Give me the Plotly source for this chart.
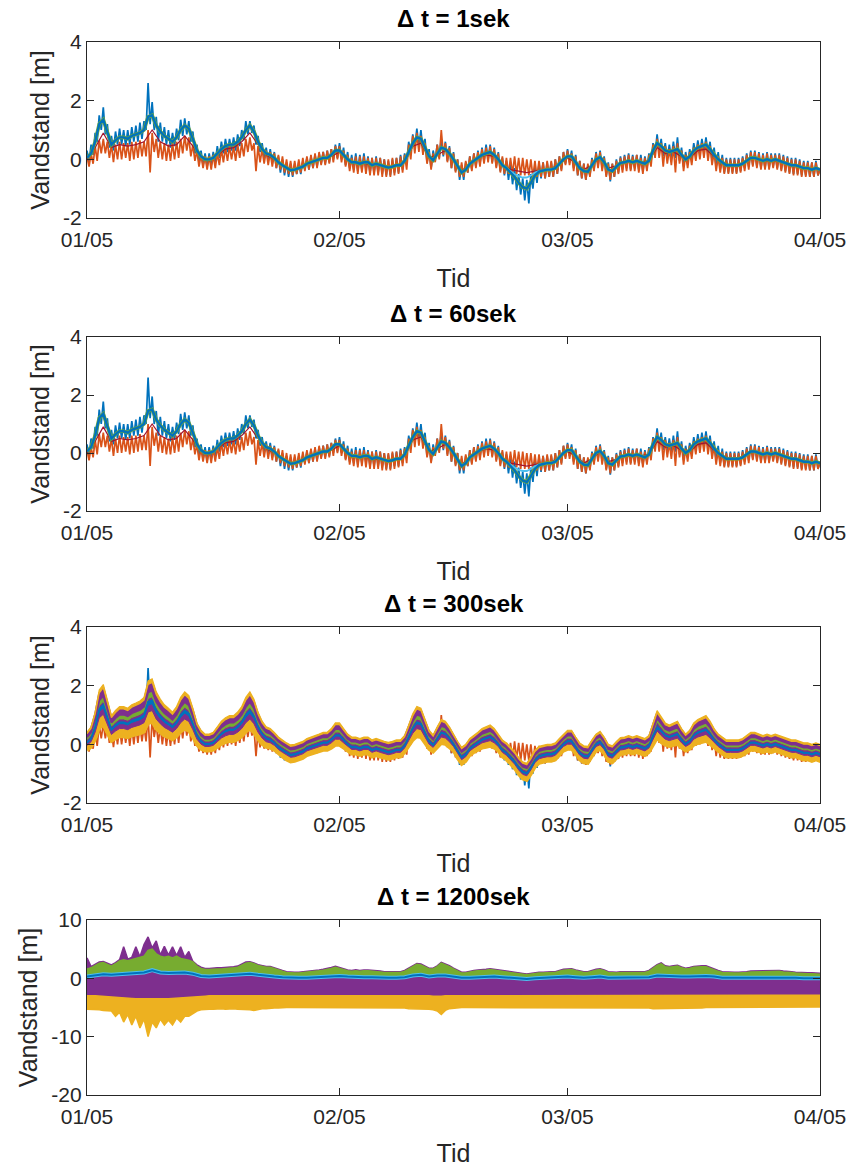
import pandas as pd
import plotly.graph_objects as go

# ---------------- data ----------------
START = "2015-01-05"
t12 = pd.date_range(START, periods=181, freq="12h")
t6 = pd.date_range(START, periods=361, freq="6h")
tday = pd.date_range(START, periods=91, freq="D")
t_lb = pd.date_range(pd.Timestamp(START) + pd.Timedelta(days=50), periods=17, freq="12h")

# smoothed model water level (12 h)
model_base = [
    0.05,0.2,0.6,1.2,1.35,0.9,0.5,0.65,0.75,0.75,0.7,0.8,0.85,0.9,1.0,1.45,1.5,1.15,0.95,0.8,
    0.7,0.6,0.75,1.0,1.15,1.05,0.7,0.3,0.1,0.0,0.0,0.05,0.2,0.35,0.45,0.5,0.5,0.6,0.75,1.0,
    1.15,0.95,0.6,0.35,0.2,0.15,0.05,-0.1,-0.2,-0.3,-0.37,-0.35,-0.3,-0.25,-0.15,-0.1,-0.05,0.0,0.05,0.05,
    0.15,0.3,0.3,0.15,0.0,-0.1,-0.1,-0.15,-0.1,-0.1,-0.2,-0.15,-0.2,-0.25,-0.28,-0.25,-0.2,-0.2,-0.05,0.25,
    0.55,0.75,0.7,0.4,0.1,-0.03,0.2,0.4,0.35,0.2,0.0,-0.25,-0.45,-0.35,-0.15,-0.05,0.05,0.15,0.2,0.25,
    0.15,0.0,-0.2,-0.3,-0.45,-0.6,-0.8,-0.95,-1.0,-0.8,-0.55,-0.42,-0.38,-0.35,-0.35,-0.3,-0.15,0.0,0.1,0.1,
    -0.1,-0.3,-0.4,-0.42,-0.2,0.0,0.07,-0.1,-0.35,-0.4,-0.25,-0.12,-0.1,-0.05,-0.1,-0.05,-0.1,-0.15,-0.05,0.3,
    0.55,0.45,0.3,0.25,0.3,0.35,0.15,0.0,0.1,0.3,0.4,0.45,0.5,0.35,0.15,0.0,-0.1,-0.2,-0.2,-0.2,
    -0.2,-0.15,-0.05,0.05,0.05,0.0,-0.05,0.0,-0.05,0.0,-0.05,-0.1,-0.15,-0.2,-0.2,-0.25,-0.3,-0.3,-0.35,-0.3,
    -0.35]

# measured water level, station 1 (6 h)
meas_blue = [
    0.3,-0.1,0.5,0.15, 0.9,0.6,1.5,1.0, 1.77,0.85,1.2,0.4, 0.8,0.3,0.95,0.5, 1.05,0.5,1.0,0.45,
    1.0,0.5,1.1,0.6, 1.15,0.6,1.25,0.7, 1.3,1.0,2.6,1.2, 1.95,1.0,1.45,0.6, 1.25,0.6,1.1,0.5,
    1.0,0.4,0.9,0.45, 1.05,0.65,1.35,0.8, 1.4,0.85,1.3,0.6, 0.95,0.2,0.5,-0.1, 0.3,-0.2,0.2,-0.25,
    0.2,-0.2,0.25,-0.1, 0.45,0.05,0.6,0.2, 0.7,0.25,0.7,0.3, 0.75,0.3,0.85,0.45, 1.0,0.65,1.3,0.85,
    1.3,0.9,1.15,0.5, 0.8,0.25,0.55,0.05, 0.4,-0.05,0.35,-0.15, 0.25,-0.3,0.1,-0.45, 0.0,-0.55,-0.1,-0.6,
    -0.15,-0.6,-0.15,-0.5, -0.1,-0.5,-0.05,-0.35, 0.05,-0.35,0.1,-0.3, 0.15,-0.25,0.2,-0.15, 0.25,-0.15,0.3,-0.1,
    0.35,0.0,0.5,0.05, 0.55,0.0,0.4,-0.2, 0.25,-0.3,0.15,-0.35, 0.2,-0.4,0.15,-0.35, 0.2,-0.35,0.1,-0.45,
    0.05,-0.45,0.1,-0.45, 0.05,-0.5,0.0,-0.55, -0.05,-0.55,0.0,-0.45, 0.05,-0.45,0.15,-0.35, 0.2,-0.1,0.6,0.2,
    0.85,0.4,1.05,0.45, 1.0,0.3,0.7,-0.1, 0.35,-0.3,0.3,-0.05, 0.5,0.05,0.7,0.1, 0.6,-0.05,0.45,-0.3,
    0.25,-0.4,0.0,-0.7, -0.2,-0.7,-0.1,-0.45, 0.1,-0.35,0.2,-0.25, 0.3,-0.15,0.4,-0.05, 0.5,0.0,0.5,-0.1,
    0.4,-0.25,0.25,-0.4, 0.05,-0.55,-0.05,-0.7, -0.15,-0.85,-0.3,-1.05, -0.5,-1.2,-0.65,-1.4, -0.7,-1.5,-0.5,-1.0,
    -0.25,-0.8,-0.15,-0.65, -0.1,-0.65,-0.1,-0.6, -0.1,-0.6,0.0,-0.5, 0.1,-0.35,0.25,-0.15, 0.35,-0.1,0.3,-0.3,
    0.15,-0.55,-0.05,-0.65, -0.15,-0.7,-0.2,-0.55, 0.05,-0.35,0.25,-0.2, 0.3,-0.3,0.1,-0.55, -0.1,-0.75,-0.15,-0.6,
    0.0,-0.45,0.1,-0.35, 0.15,-0.3,0.2,-0.35, 0.15,-0.3,0.15,-0.35, 0.15,-0.4,0.1,-0.3, 0.2,-0.1,0.55,0.2,
    0.85,0.25,0.7,0.1, 0.55,0.05,0.5,0.05, 0.6,0.05,0.75,-0.05, 0.4,-0.25,0.25,-0.15, 0.35,0.0,0.55,0.15,
    0.65,0.2,0.7,0.25, 0.75,0.2,0.6,-0.05, 0.4,-0.25,0.25,-0.35, 0.15,-0.45,0.05,-0.45, 0.05,-0.45,0.05,-0.45,
    0.05,-0.4,0.1,-0.3, 0.2,-0.25,0.3,-0.2, 0.3,-0.25,0.25,-0.3, 0.2,-0.3,0.25,-0.3, 0.2,-0.25,0.2,-0.3,
    0.2,-0.35,0.15,-0.4, 0.1,-0.45,0.05,-0.5, 0.05,-0.5,0.0,-0.55, -0.05,-0.55,-0.05,-0.6, -0.1,-0.6,-0.05,-0.55,
    -0.3]

# measured water level, station 2 (6 h)
meas_orange = [
    0.1,-0.25,0.2,-0.15, 0.45,-0.05,0.65,0.2, 0.7,0.2,0.6,0.05, 0.5,-0.1,0.5,0.0, 0.6,0.0,0.55,0.05,
    0.55,-0.05,0.6,0.0, 0.6,0.05,0.65,0.1, 0.6,0.1,1.0,-0.45, 0.9,0.25,0.7,0.05, 0.6,0.0,0.55,-0.05,
    0.5,-0.05,0.55,0.0, 0.6,0.05,0.7,0.2, 0.8,0.3,0.75,0.1, 0.5,-0.05,0.3,-0.25, 0.15,-0.3,0.1,-0.35,
    0.1,-0.35,0.15,-0.3, 0.2,-0.2,0.35,-0.1, 0.4,-0.05,0.45,0.0, 0.45,-0.05,0.5,0.05, 0.55,0.1,0.7,0.25,
    0.75,0.3,0.55,-0.4, 0.45,-0.1,0.35,-0.15, 0.3,-0.2,0.25,-0.25, 0.2,-0.3,0.15,-0.35, 0.1,-0.45,0.0,-0.5,
    -0.05,-0.55,-0.05,-0.5, 0.0,-0.45,0.05,-0.4, 0.1,-0.35,0.15,-0.3, 0.2,-0.3,0.25,-0.2, 0.25,-0.2,0.3,-0.15,
    0.35,-0.1,0.45,0.0, 0.45,-0.1,0.3,-0.25, 0.15,-0.4,0.05,-0.45, 0.1,-0.5,0.1,-0.45, 0.1,-0.5,0.05,-0.55,
    0.05,-0.55,0.05,-0.55, 0.05,-0.6,0.0,-0.6, 0.0,-0.6,0.05,-0.55, 0.05,-0.5,0.1,-0.45, 0.15,-0.35,0.5,0.0,
    0.8,0.2,0.9,0.25, 0.8,0.15,0.55,-0.15, 0.25,-0.35,0.2,-0.1, 0.5,0.0,1.0,0.15, 0.55,-0.1,0.4,-0.3,
    0.2,-0.45,0.0,-0.6, -0.1,-0.6,-0.05,-0.45, 0.1,-0.4,0.2,-0.3, 0.25,-0.25,0.35,-0.15, 0.4,-0.1,0.45,-0.15,
    0.35,-0.3,0.2,-0.45, 0.1,-0.5,0.05,-0.5, 0.05,-0.5,0.1,-0.5, 0.05,-0.55,0.05,-0.55, 0.0,-0.55,0.0,-0.6,
    -0.05,-0.6,-0.05,-0.6, -0.1,-0.65,-0.05,-0.6, -0.05,-0.6,0.0,-0.5, 0.1,-0.4,0.25,-0.2, 0.3,-0.2,0.2,-0.4,
    0.1,-0.55,-0.05,-0.65, -0.15,-0.7,-0.15,-0.6, 0.0,-0.4,0.2,-0.3, 0.25,-0.4,0.05,-0.6, -0.15,-0.7,-0.15,-0.6,
    -0.05,-0.5,0.05,-0.45, 0.1,-0.4,0.15,-0.4, 0.1,-0.4,0.15,-0.45, 0.05,-0.5,0.05,-0.4, 0.15,-0.25,0.5,0.05,
    0.7,0.05,0.55,-0.25, 0.45,-0.15,0.35,-0.2, 0.45,-0.45,0.55,-0.15, 0.3,-0.4,0.15,-0.3, 0.25,-0.2,0.4,-0.05,
    0.5,0.0,0.55,0.05, 0.6,-0.05,0.45,-0.2, 0.25,-0.4,0.1,-0.45, 0.05,-0.5,0.0,-0.5, 0.0,-0.5,0.0,-0.5,
    0.0,-0.45,0.05,-0.4, 0.15,-0.35,0.25,-0.25, 0.25,-0.3,0.2,-0.35, 0.15,-0.35,0.2,-0.35, 0.15,-0.3,0.15,-0.35,
    0.15,-0.4,0.1,-0.45, 0.05,-0.5,0.0,-0.55, 0.0,-0.55,-0.05,-0.6, -0.1,-0.6,-0.1,-0.6, -0.1,-0.6,-0.1,-0.55,
    -0.35]

# second model run (daily)
model_red = [
    0.0,0.4,0.9,0.4,0.5,0.45,0.5,0.6,1.0,0.6,
    0.45,0.5,0.8,0.45,0.05,-0.05,0.15,0.35,0.4,0.6,
    0.9,0.5,0.15,0.0,-0.2,-0.35,-0.3,-0.15,-0.05,0.05,
    0.1,0.25,-0.02,-0.12,-0.12,-0.2,-0.22,-0.28,-0.2,-0.1,
    0.45,0.55,0.05,0.15,0.3,0.0,-0.4,-0.15,0.05,0.15,
    0.1,-0.2,-0.35,-0.4,-0.45,-0.4,-0.35,-0.32,-0.15,0.05,
    -0.1,-0.35,-0.2,0.05,-0.3,-0.22,-0.1,-0.1,-0.1,-0.05,
    0.4,0.2,0.25,0.1,0.05,0.3,0.35,0.1,-0.1,-0.2,
    -0.2,-0.05,0.05,-0.05,-0.05,-0.05,-0.15,-0.2,-0.3,-0.33,
    -0.35]

# third model run around the low-water event (12 h, from day 50)
model_lightblue = [0.15,0.0,-0.2,-0.3,-0.42,-0.5,-0.58,-0.62,-0.62,-0.55,-0.45,-0.4,-0.38,-0.35,-0.35,-0.3,-0.15]

# dt = 300 s ensemble envelope (12 h)
ens300_top = [
    0.41,0.6,1.1,1.85,2.04,1.48,0.98,1.16,1.29,1.29,1.23,1.35,1.41,1.48,1.6,2.16,2.23,1.79,1.54,1.35,
    1.23,1.1,1.29,1.6,1.79,1.66,1.23,0.73,0.48,0.35,0.35,0.41,0.6,0.79,0.91,0.98,0.98,1.1,1.29,1.6,
    1.79,1.54,1.1,0.79,0.6,0.54,0.41,0.25,0.15,0.05,-0.02,0.0,0.05,0.1,0.2,0.25,0.3,0.35,0.41,0.41,
    0.54,0.73,0.73,0.54,0.35,0.25,0.25,0.2,0.25,0.25,0.15,0.2,0.15,0.1,0.07,0.1,0.15,0.15,0.3,0.66,
    1.04,1.29,1.23,0.85,0.48,0.32,0.6,0.85,0.79,0.6,0.35,0.1,-0.1,0.0,0.2,0.3,0.41,0.54,0.6,0.66,
    0.54,0.35,0.15,0.05,-0.1,-0.25,-0.45,-0.6,-0.65,-0.45,-0.2,-0.07,-0.03,0.0,0.0,0.05,0.2,0.35,0.48,0.48,
    0.25,0.05,-0.05,-0.07,0.15,0.35,0.44,0.25,0.0,-0.05,0.1,0.23,0.25,0.3,0.25,0.3,0.25,0.2,0.3,0.73,
    1.15,0.95,0.73,0.66,0.73,0.79,0.54,0.35,0.48,0.73,0.85,0.91,0.98,0.79,0.54,0.35,0.25,0.15,0.15,0.15,
    0.15,0.2,0.3,0.41,0.41,0.35,0.3,0.35,0.3,0.35,0.3,0.25,0.2,0.15,0.15,0.1,0.05,0.05,0.0,0.05,
    0.0]
ens300_bot = [
    -0.2,-0.1,0.16,0.55,0.65,0.36,0.1,0.19,0.26,0.26,0.23,0.29,0.32,0.36,0.42,0.71,0.75,0.52,0.39,0.29,
    0.23,0.16,0.26,0.42,0.52,0.45,0.23,-0.03,-0.17,-0.23,-0.23,-0.2,-0.1,0.0,0.06,0.1,0.1,0.16,0.26,0.42,
    0.52,0.39,0.16,0.0,-0.1,-0.13,-0.2,-0.33,-0.43,-0.53,-0.6,-0.58,-0.53,-0.48,-0.38,-0.33,-0.28,-0.23,-0.2,-0.2,
    -0.13,-0.03,-0.03,-0.13,-0.23,-0.33,-0.33,-0.38,-0.33,-0.33,-0.43,-0.38,-0.43,-0.48,-0.51,-0.48,-0.43,-0.43,-0.28,-0.07,
    0.13,0.26,0.23,0.03,-0.17,-0.26,-0.1,0.03,0.0,-0.1,-0.23,-0.48,-0.68,-0.58,-0.38,-0.28,-0.2,-0.13,-0.1,-0.07,
    -0.13,-0.23,-0.43,-0.53,-0.68,-0.83,-1.03,-1.18,-1.23,-1.03,-0.78,-0.65,-0.61,-0.58,-0.58,-0.53,-0.38,-0.23,-0.17,-0.17,
    -0.33,-0.53,-0.63,-0.65,-0.43,-0.23,-0.18,-0.33,-0.58,-0.63,-0.48,-0.35,-0.33,-0.28,-0.33,-0.28,-0.33,-0.38,-0.28,-0.03,
    0.2,0.06,-0.03,-0.07,-0.03,0.0,-0.13,-0.23,-0.17,-0.03,0.03,0.06,0.1,0.0,-0.13,-0.23,-0.33,-0.43,-0.43,-0.43,
    -0.43,-0.38,-0.28,-0.2,-0.2,-0.23,-0.28,-0.23,-0.28,-0.23,-0.28,-0.33,-0.38,-0.43,-0.43,-0.48,-0.53,-0.53,-0.58,-0.53,
    -0.58]
# member layers inside the envelope: (lower fraction, upper fraction, colour)
ens300_layers = [(0.0, 0.27, "#EDB120"), (0.27, 0.43, "#7E2F8E"), (0.43, 0.51, "#0072BD"),
                 (0.51, 0.59, "#7E2F8E"), (0.59, 0.73, "#77AC30"), (0.73, 0.92, "#7E2F8E"),
                 (0.92, 1.0, "#EDB120")]

# dt = 1200 s (unstable) ensemble (12 h)
ens1200_purple_top = [
    3.5,2.0,2.4,2.8,2.9,2.6,2.3,2.7,3.2,5.4,3.3,3.6,5.4,3.7,5.8,7.1,5.2,6.4,4.0,5.5,
    4.0,5.4,3.9,5.4,3.6,4.6,2.9,2.3,1.9,1.7,1.7,1.7,1.8,1.8,1.9,1.9,2.0,2.1,2.4,2.8,
    2.85,2.65,2.35,2.15,2.05,2.05,1.85,1.55,1.35,1.15,1.05,1.05,1.05,1.05,1.15,1.25,1.35,1.45,1.55,1.65,
    1.85,2.05,1.95,1.65,1.45,1.35,1.45,1.35,1.45,1.45,1.35,1.35,1.25,1.15,1.05,1.05,1.15,1.15,1.35,1.75,
    2.15,2.55,2.45,2.05,1.75,1.75,2.15,2.75,2.45,2.15,1.75,1.35,1.05,1.05,1.15,1.35,1.45,1.55,1.55,1.65,
    1.55,1.45,1.35,1.35,1.25,1.15,0.95,0.85,0.75,0.85,0.95,1.05,1.05,1.05,1.15,1.15,1.35,1.55,1.65,1.65,
    1.45,1.25,1.15,1.15,1.35,1.55,1.65,1.45,1.15,1.05,1.05,1.15,1.15,1.25,1.15,1.25,1.15,1.15,1.35,1.85,
    2.35,2.65,2.15,2.05,2.15,2.25,1.95,1.75,1.85,2.05,2.15,2.15,2.15,1.95,1.65,1.35,1.15,1.05,1.05,1.05,
    1.05,1.05,1.15,1.25,1.25,1.25,1.25,1.35,1.35,1.35,1.35,1.25,1.15,1.15,1.05,1.05,0.95,0.95,0.95,0.95,
    0.85]
ens1200_green_top = [
    1.6,1.8,2.2,2.6,2.7,2.4,2.1,2.5,3.0,3.2,3.0,3.3,3.4,3.6,3.8,4.8,5.0,4.2,3.8,3.6,
    3.8,3.5,3.8,3.4,3.3,3.1,2.8,2.1,1.7,1.5,1.5,1.5,1.6,1.6,1.7,1.7,1.8,1.9,2.2,2.6,
    2.7,2.5,2.2,2.0,1.9,1.9,1.7,1.4,1.2,1.0,0.9,0.9,0.9,0.9,1.0,1.1,1.2,1.3,1.4,1.5,
    1.7,1.9,1.8,1.5,1.3,1.2,1.3,1.2,1.3,1.3,1.2,1.2,1.1,1.0,0.9,0.9,1.0,1.0,1.2,1.6,
    2.0,2.4,2.3,1.9,1.6,1.6,2.0,2.6,2.3,2.0,1.6,1.2,0.9,0.9,1.0,1.2,1.3,1.4,1.4,1.5,
    1.4,1.3,1.2,1.2,1.1,1.0,0.8,0.7,0.6,0.7,0.8,0.9,0.9,0.9,1.0,1.0,1.2,1.4,1.5,1.5,
    1.3,1.1,1.0,1.0,1.2,1.4,1.5,1.3,1.0,0.9,0.9,1.0,1.0,1.1,1.0,1.1,1.0,1.0,1.2,1.7,
    2.2,2.5,2.0,1.9,2.0,2.1,1.8,1.6,1.7,1.9,2.0,2.0,2.0,1.8,1.5,1.2,1.0,0.9,0.9,0.9,
    0.9,0.9,1.0,1.1,1.1,1.1,1.1,1.2,1.2,1.2,1.2,1.1,1.0,1.0,0.9,0.9,0.8,0.8,0.8,0.8,
    0.7]
ens1200_yellow_bot = [
    -5.3,-5.3,-5.4,-5.4,-5.5,-5.5,-5.6,-6.5,-5.8,-7.5,-6.2,-8.0,-6.5,-8.5,-7.0,-10.0,-7.5,-8.5,-7.0,-8.0,
    -7.2,-8.0,-6.8,-7.5,-6.5,-6.5,-6.0,-5.6,-5.4,-5.3,-5.3,-5.3,-5.2,-5.2,-5.3,-5.2,-5.2,-5.3,-5.3,-5.4,
    -5.4,-5.5,-5.3,-5.2,-5.2,-5.1,-5.1,-5.1,-5.0,-5.0,-5.0,-5.0,-5.0,-5.0,-5.0,-5.0,-5.0,-5.1,-5.0,-5.0,
    -5.1,-5.1,-5.1,-5.0,-5.0,-5.0,-5.0,-5.0,-5.0,-5.0,-5.0,-5.0,-5.0,-5.0,-5.0,-5.0,-5.0,-5.0,-5.1,-5.2,
    -5.2,-5.2,-5.2,-5.2,-5.3,-5.4,-5.6,-6.2,-5.5,-5.2,-5.1,-5.0,-5.0,-5.0,-5.0,-5.0,-5.0,-5.0,-5.0,-5.0,
    -5.0,-5.0,-5.0,-5.0,-5.0,-5.0,-5.0,-5.0,-5.1,-5.1,-5.1,-5.1,-5.0,-5.0,-5.0,-5.0,-5.0,-5.0,-5.1,-5.1,
    -5.0,-5.0,-5.0,-5.0,-5.0,-5.0,-5.0,-5.0,-5.0,-5.0,-5.0,-5.0,-5.0,-5.0,-5.0,-5.0,-5.0,-5.0,-5.1,-5.2,
    -5.2,-5.2,-5.1,-5.1,-5.1,-5.1,-5.1,-5.1,-5.1,-5.1,-5.1,-5.1,-5.0,-5.0,-5.0,-5.0,-4.9,-4.9,-4.9,-4.9,
    -4.9,-4.9,-4.9,-4.9,-4.9,-4.9,-4.9,-4.9,-4.9,-4.9,-4.9,-4.9,-4.9,-4.9,-4.9,-4.9,-4.9,-4.9,-4.9,-4.9,
    -4.9]
# daily
ens1200_blue = [
    0.3,0.5,0.7,0.6,0.7,0.8,0.8,1.0,1.4,1.0,
    0.9,0.9,1.0,0.8,0.4,0.3,0.4,0.5,0.5,0.6,
    0.8,0.6,0.4,0.3,0.2,0.1,0.1,0.1,0.2,0.2,
    0.3,0.4,0.3,0.2,0.2,0.2,0.1,0.1,0.1,0.2,
    0.5,0.6,0.3,0.5,0.5,0.3,0.1,0.1,0.2,0.3,
    0.3,0.2,0.1,0.0,-0.1,0.0,0.1,0.1,0.2,0.3,
    0.2,0.1,0.2,0.3,0.1,0.1,0.2,0.2,0.2,0.2,
    0.5,0.4,0.4,0.3,0.3,0.4,0.4,0.3,0.1,0.1,
    0.1,0.2,0.2,0.2,0.2,0.2,0.1,0.1,0.0,0.0,
    0.0]
ens1200_purple_bot = [
    -3.0,-3.0,-3.1,-3.1,-3.3,-3.4,-3.5,-3.5,-3.6,-3.5,
    -3.5,-3.5,-3.4,-3.3,-3.1,-3.0,-3.0,-3.0,-3.0,-3.0,
    -3.0,-3.0,-3.0,-2.9,-2.9,-2.9,-2.9,-2.9,-2.9,-2.9,
    -2.9,-2.9,-2.9,-2.9,-2.9,-2.9,-2.9,-2.9,-2.9,-2.9,
    -3.0,-3.0,-3.0,-3.1,-3.0,-2.9,-2.9,-2.9,-2.9,-2.9,
    -2.9,-2.9,-2.9,-2.9,-2.9,-2.9,-2.9,-2.9,-2.9,-2.9,
    -2.9,-2.9,-2.9,-2.9,-2.9,-2.9,-2.9,-2.9,-2.9,-2.9,
    -3.0,-3.0,-2.9,-2.9,-2.9,-2.9,-2.9,-2.9,-2.9,-2.9,
    -2.9,-2.9,-2.9,-2.9,-2.9,-2.9,-2.9,-2.9,-2.9,-2.9,
    -2.9]

panel_titles = ["Δ t = 1sek", "Δ t = 60sek", "Δ t = 300sek", "Δ t = 1200sek"]
x_tickvals = ["2015-01-05", "2015-02-05", "2015-03-05", "2015-04-05"]
x_ticktext = ["01/05", "02/05", "03/05", "04/05"]
y_ticks_small = [-2, 0, 2, 4]
y_ticks_big = [-20, -10, 0, 10]

assert len(model_base) == 181 and len(meas_blue) == 361 and len(meas_orange) == 361
assert len(model_red) == 91 and len(ens300_top) == 181 and len(ens300_bot) == 181
assert len(ens1200_purple_top) == 181 and len(ens1200_green_top) == 181 and len(ens1200_yellow_bot) == 181
assert len(ens1200_blue) == 91 and len(ens1200_purple_bot) == 91

# ---------------- figure ----------------
BLUE, ORANGE, YELLOW, PURPLE, GREEN, LBLUE, DRED = (
    "#0072BD", "#D95319", "#EDB120", "#7E2F8E", "#77AC30", "#4DBEEE", "#A2142F")
AX = "#262626"
FONT = "Liberation Sans, Arial, sans-serif"

fig = go.Figure()


def axn(n):
    return ("x" if n == 1 else f"x{n}"), ("y" if n == 1 else f"y{n}")


def line(x, y, color, width, n):
    xa, ya = axn(n)
    fig.add_trace(go.Scatter(x=list(x), y=y, mode="lines", line=dict(color=color, width=width),
                             hoverinfo="skip", showlegend=False, xaxis=xa, yaxis=ya))


def band(x, lo, hi, color, n, edge=0.8):
    xa, ya = axn(n)
    xs = list(x) + list(x)[::-1]
    ys = list(lo) + list(hi)[::-1]
    fig.add_trace(go.Scatter(x=xs, y=ys, mode="lines", fill="toself", fillcolor=color,
                             line=dict(color=color, width=edge), hoverinfo="skip", showlegend=False,
                             xaxis=xa, yaxis=ya))


for n in (1, 2):
    line(t6, meas_blue, BLUE, 1.7, n)
    line(t6, meas_orange, ORANGE, 1.7, n)
    line(tday, model_red, DRED, 1.2, n)
    line(t12, model_base, GREEN, 3.6, n)
    line(t_lb, model_lightblue, LBLUE, 1.8, n)
    line(t12, model_base, BLUE, 2.4, n)

# panel 3
line(t6, meas_blue, BLUE, 1.7, 3)
line(t6, meas_orange, ORANGE, 1.7, 3)
edges300 = [3.0, 1.0, 1.0, 1.0, 1.0, 2.0, 1.2]
for k, (f0, f1, col) in enumerate(ens300_layers):
    lo = [b + f0 * (t - b) for b, t in zip(ens300_bot, ens300_top)]
    hi = [b + f1 * (t - b) for b, t in zip(ens300_bot, ens300_top)]
    band(t12, lo, hi, col, 3, edge=edges300[k])
line(t12, model_base, BLUE, 1.8, 3)

# panel 4
blue12 = pd.Series(ens1200_blue, index=tday).reindex(t12).interpolate().tolist()
pbot12 = pd.Series(ens1200_purple_bot, index=tday).reindex(t12).interpolate().tolist()
band(t12, ens1200_green_top, ens1200_purple_top, PURPLE, 4, edge=1.5)
band(t12, blue12, ens1200_green_top, GREEN, 4, edge=1.5)
band(t12, pbot12, blue12, PURPLE, 4, edge=1.5)
band(t12, ens1200_yellow_bot, pbot12, YELLOW, 4, edge=1.5)
line(tday, ens1200_blue, LBLUE, 4.0, 4)
line(tday, ens1200_blue, BLUE, 2.0, 4)

# layout: pixel-based domains
W, H = 851, 1167
L, R, T, B = 87, 820, 42, 1095
panels_px = [(42, 218), (337, 511), (627, 803), (920, 1095)]
layout = dict(template="none", width=W, height=H,
              margin=dict(l=L, r=W - R, t=T, b=H - B, pad=0, autoexpand=False),
              paper_bgcolor="white", plot_bgcolor="white", showlegend=False,
              font=dict(family=FONT, color=AX, size=16))
annotations = []
for i, (top, bot) in enumerate(panels_px):
    n = i + 1
    xs = "xaxis" if n == 1 else f"xaxis{n}"
    ys = "yaxis" if n == 1 else f"yaxis{n}"
    d0 = (B - bot) / (B - T)
    d1 = (B - top) / (B - T)
    yt = y_ticks_big if n == 4 else y_ticks_small
    layout[xs] = dict(domain=[0, 1], anchor="y" if n == 1 else f"y{n}", automargin=False,
                      range=["2015-01-05", "2015-04-05"], tickvals=x_tickvals, ticktext=x_ticktext,
                      ticks="inside", ticklen=7, tickcolor=AX, tickwidth=1.3,
                      showline=True, linecolor=AX, linewidth=1.3, mirror="allticks",
                      showgrid=False, zeroline=False, tickfont=dict(size=21, color=AX),
                      ticklabelstandoff=3,
                      title=dict(text="Tid", font=dict(size=25, color=AX), standoff=19))
    layout[ys] = dict(domain=[d0, d1], anchor="x" if n == 1 else f"x{n}", automargin=False,
                      range=[yt[0], yt[-1]], tickvals=yt, ticktext=[str(v) for v in yt],
                      ticks="inside", ticklen=7, tickcolor=AX, tickwidth=1.3,
                      showline=True, linecolor=AX, linewidth=1.3, mirror="allticks",
                      showgrid=False, zeroline=False, tickfont=dict(size=21, color=AX),
                      title=dict(text="Vandstand [m]", font=dict(size=25, color=AX), standoff=6))
    annotations.append(dict(text="<b>" + panel_titles[i] + "</b>", xref="paper", yref="paper",
                            x=0.5, y=d1, xanchor="center", yanchor="bottom", yshift=8,
                            showarrow=False, font=dict(size=24, color="black", family=FONT)))
layout["annotations"] = annotations
fig.update_layout(**layout)

fig.write_html("out.html")
